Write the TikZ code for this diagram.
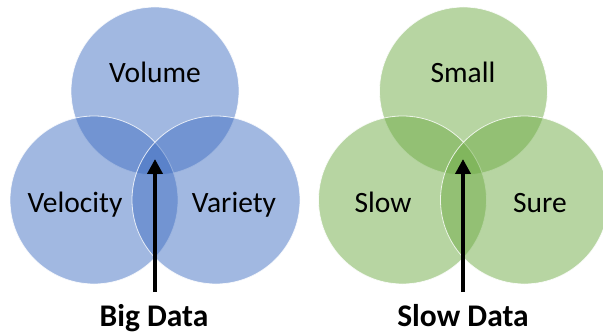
\documentclass[tikz,border=0pt]{standalone}
\usepackage{fontspec}
\setmainfont{Carlito}
\usetikzlibrary{arrows.meta}
\definecolor{bluefill}{RGB}{68,114,196}
\definecolor{greenfill}{RGB}{112,173,71}
\tikzset{
  venn/.style={circle, inner sep=0pt, minimum size=168pt, fill=#1, fill opacity=0.5, draw=white, draw opacity=0.8, line width=0.8pt},
  lbl/.style={anchor=base, font=\fontsize{29.5}{31}\selectfont, text=black},
  title/.style={anchor=base, font=\fontsize{31.5}{34}\selectfont\bfseries, text=black},
  pointer/.style={-{Triangle[width=15pt,length=15pt]}, line width=4pt, black}
}
\begin{document}
\begin{tikzpicture}[x=1pt,y=-1pt]
\useasboundingbox (0,0) rectangle (603,334);
\fill[white] (0,0) rectangle (603,334);
% Big Data
\node[venn=bluefill] (vol) at (155,91) {};
\node[venn=bluefill] (vel) at (94,200) {};
\node[venn=bluefill] (var) at (216,200) {};
\node[lbl] (tvol) at (155,83) {Volume};
\node[lbl] (tvel) at (75,212) {Velocity};
\node[lbl] (tvar) at (234,212) {Variety};
\node[title] (big) at (154,326) {Big Data};
\coordinate (bigfrom) at (155,292);
\coordinate (bigto) at (155,159);
\draw[pointer] (bigfrom) -- (bigto);
% Slow Data
\node[venn=greenfill] (sma) at (463.5,91) {};
\node[venn=greenfill] (slo) at (402.5,200) {};
\node[venn=greenfill] (sur) at (524.5,200) {};
\node[lbl] (tsma) at (463,83) {Small};
\node[lbl] (tslo) at (383,212) {Slow};
\node[lbl] (tsur) at (540,212) {Sure};
\node[title] (slow) at (463,326) {Slow Data};
\coordinate (slowfrom) at (463,292);
\coordinate (slowto) at (463,159);
\draw[pointer] (slowfrom) -- (slowto);
\end{tikzpicture}
\end{document}
